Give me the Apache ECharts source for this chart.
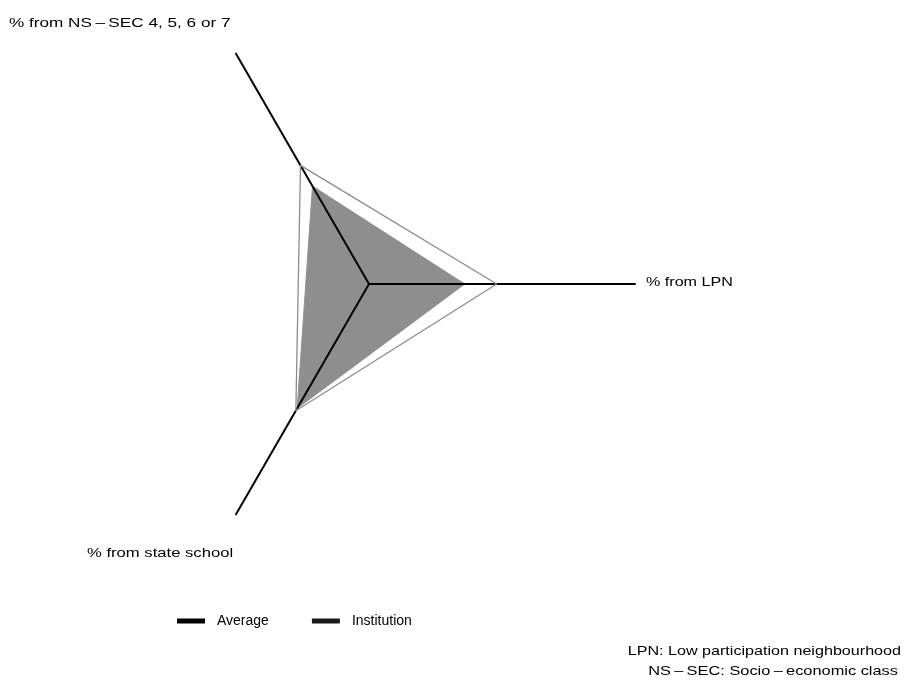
<!DOCTYPE html>
<html>
<head>
<meta charset="utf-8">
<script src="https://cdn.jsdelivr.net/npm/echarts@6/dist/echarts.min.js"></script>
<style>
html,body{margin:0;padding:0;background:#fff;}
#chart{width:905px;height:680px;}
</style>
</head>
<body>
<div id="chart"></div>
<script>
// Data
var axisNames = ['% from LPN', '% from NS\u2009\u2013\u2009SEC 4, 5, 6 or 7', '% from state school'];
var axisMax = [100, 100, 100];
var seriesNames = ['Average', 'Institution'];
var averageValues = [48, 51.5, 55];
var institutionValues = [36, 42.5, 54];
var footnotes = ['LPN: Low participation neighbourhood', 'NS\u2009\u2013\u2009SEC: Socio\u2009\u2013\u2009economic class'];

var FONT = '"Liberation Sans", Arial, sans-serif';
var chart = echarts.init(document.getElementById('chart'), null, {renderer: 'canvas'});

var indicator = axisNames.map(function (n, i) { return {name: n, max: axisMax[i]}; });

function txt(text, x, y, align, sx) {
  return {
    type: 'text', x: x, y: y, scaleX: sx, silent: true,
    style: {text: text, fill: '#000', font: '13px ' + FONT, textAlign: align, textVerticalAlign: 'middle'}
  };
}

var option = {
  backgroundColor: '#fff',
  animation: false,
  legend: {
    data: [
      {name: seriesNames[0], itemStyle: {color: '#000'}},
      {name: seriesNames[1], itemStyle: {color: '#1a1a1a'}}
    ],
    left: 172, top: 609,
    icon: 'rect', itemWidth: 28, itemHeight: 5, itemGap: 43,
    textStyle: {fontFamily: FONT, fontSize: 14, color: '#000', padding: [0, 0, 0, 7]},
    selectedMode: false
  },
  radar: {
    center: [369, 284],
    radius: 266,
    startAngle: 0,
    shape: 'polygon',
    splitNumber: 1,
    indicator: indicator,
    axisName: {show: false},
    axisLine: {lineStyle: {color: '#000', width: 2}},
    axisTick: {show: false},
    axisLabel: {show: false},
    splitLine: {show: false},
    splitArea: {show: false}
  },
  series: [
    {
      type: 'radar', name: seriesNames[1], z: -1,
      symbol: 'none',
      lineStyle: {color: '#7a7a7a', width: 0.8},
      areaStyle: {color: '#8e8e8e', opacity: 1},
      itemStyle: {color: '#8e8e8e'},
      data: [{name: seriesNames[1], value: institutionValues}]
    },
    {
      type: 'radar', name: seriesNames[0],
      symbol: 'none',
      lineStyle: {color: '#8c8c8c', width: 1.3},
      itemStyle: {color: '#8c8c8c'},
      data: [{name: seriesNames[0], value: averageValues}]
    }
  ],
  graphic: [
    txt(axisNames[1], 9, 23, 'left', 1.32),
    txt(axisNames[0], 646, 282, 'left', 1.24),
    txt(axisNames[2], 87, 553, 'left', 1.28),
    txt(footnotes[0], 901, 651, 'right', 1.24),
    txt(footnotes[1], 898, 671, 'right', 1.26)
  ]
};
chart.setOption(option);
</script>
</body>
</html>
